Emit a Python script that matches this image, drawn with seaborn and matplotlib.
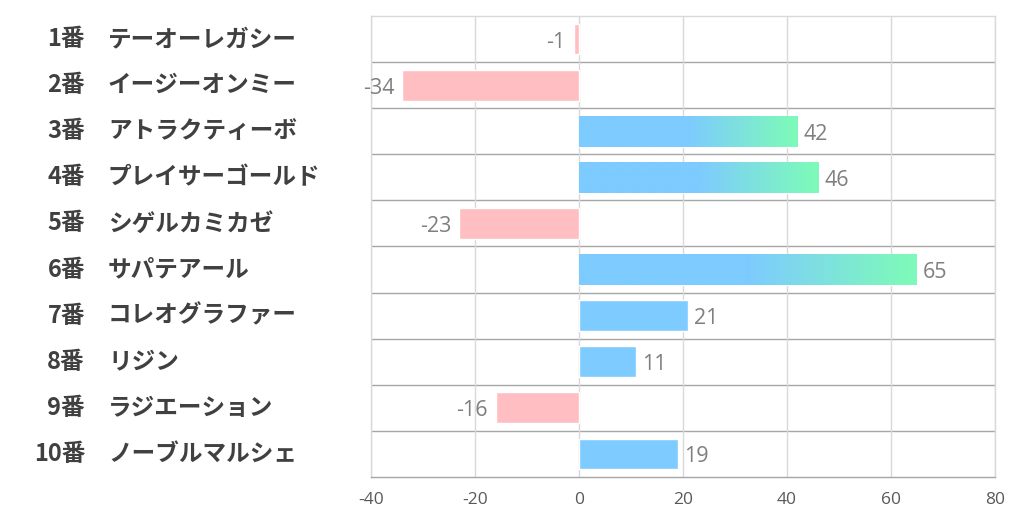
import numpy as np
import pandas as pd
import matplotlib
matplotlib.use("Agg")
import matplotlib.pyplot as plt
import seaborn as sns
from matplotlib.transforms import blended_transform_factory
from matplotlib.colors import to_rgb

numbers = ["1番", "2番", "3番", "4番", "5番", "6番", "7番", "8番", "9番", "10番"]
names = ["テーオーレガシー", "イージーオンミー", "アトラクティーボ", "プレイサーゴールド",
         "シゲルカミカゼ", "サパテアール", "コレオグラファー", "リジン",
         "ラジエーション", "ノーブルマルシェ"]
values = [-1, -34, 42, 46, -23, 65, 21, 11, -16, 19]
xticks = [-40, -20, 0, 20, 40, 60, 80]

BLUE = "#7dcbff"
GREEN = "#7ef9bb"
PINK = "#ffbec2"

sns.set_theme(style="white")
plt.rcParams["font.family"] = ["Noto Sans CJK JP", "DejaVu Sans"]

df = pd.DataFrame({"horse": [n + "　" + m for n, m in zip(numbers, names)],
                   "value": values})
df["sign"] = np.where(df["value"] < 0, "neg", "pos")

W, H = 1022, 522
fig = plt.figure(figsize=(W / 100, H / 100), dpi=100)
ax = fig.add_axes([371 / W, 1 - 477 / H, 624 / W, 461 / H])

sns.barplot(data=df, x="value", y="horse", hue="sign",
            palette={"neg": PINK, "pos": BLUE}, dodge=False, legend=False,
            width=0.67, saturation=1, ax=ax, orient="h")

# gradient on long positive bars
N = 256
t = np.linspace(0, 1, N)
frac = np.clip((t - 0.5) / 0.47, 0, 1)[:, None]
cols = np.array(to_rgb(BLUE)) * (1 - frac) + np.array(to_rgb(GREEN)) * frac
grad = cols[None, :, :]
for p in list(ax.patches):
    w = p.get_width()
    if w > 30:
        x0, y0, h = p.get_x(), p.get_y(), p.get_height()
        im = ax.imshow(grad, extent=[x0, x0 + w, y0 + h, y0], aspect="auto",
                       zorder=p.get_zorder() + 0.1, interpolation="bilinear")
        im.set_clip_path(p)

ax.set_xlim(-40, 80)
ax.set_ylim(9.5, -0.5)
ax.set_xticks(xticks)
ax.set_xticklabels([str(x) for x in xticks], family=["Open Sans", "DejaVu Sans"])
ax.set_yticks([])
ax.set_xlabel("")
ax.set_ylabel("")
ax.xaxis.grid(True, color="#d9d9d9", lw=1)
ax.set_axisbelow(True)
for y in np.arange(0.5, 9, 1):
    ax.axhline(y, color="#a6a6a6", lw=1, zorder=0.5)
for s in ["left", "right", "top"]:
    ax.spines[s].set_color("#d9d9d9")
    ax.spines[s].set_linewidth(1)
ax.spines["bottom"].set_color("#a6a6a6")
ax.spines["bottom"].set_linewidth(1)
ax.tick_params(axis="x", length=0, pad=11, labelsize=12.5, labelcolor="#595959")

# value labels
for i, v in enumerate(values):
    if v >= 0:
        ax.annotate(str(v), xy=(v, i), xytext=(6, -3), textcoords="offset pixels",
                    ha="left", va="center", fontsize=15.5, color="#7f7f7f",
                    family=["Open Sans", "DejaVu Sans"])
    else:
        ax.annotate(str(v), xy=(v, i), xytext=(-8, -3), textcoords="offset pixels",
                    ha="right", va="center", fontsize=15.5, color="#7f7f7f",
                    family=["Open Sans", "DejaVu Sans"])

# row labels
trans = blended_transform_factory(fig.transFigure, ax.transData)
for i in range(len(numbers)):
    ax.text(85 / W, i, numbers[i], transform=trans, ha="right", va="center",
            fontsize=17, fontweight="bold", color="#404040")
    ax.text(108 / W, i, names[i], transform=trans, ha="left", va="center",
            fontsize=17, fontweight="bold", color="#404040")

fig.savefig("out.png", dpi=100)
